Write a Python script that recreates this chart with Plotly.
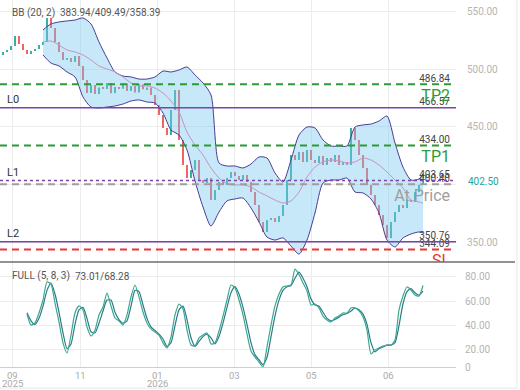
import plotly.graph_objects as go

# ---------------- data ----------------
bar_index = list(range(106))
first_open = 512.2
closes = [514.8, 516.5, 519.9, 528.6, 521.7, 516.5, 513.0, 515.6, 517.4, 520.8,
          523.4, 544.2, 535.5, 523.4, 514.8, 507.9, 509.6, 506.1, 511.3, 502.7,
          490.6, 479.3, 486.2, 478.5, 484.0, 482.8, 488.0, 479.0, 484.5, 483.0,
          487.5, 481.0, 485.4, 479.8, 486.8, 482.5, 484.0, 477.6, 468.9, 460.3,
          449.1, 443.0, 464.6, 481.9, 438.7, 417.1, 405.8, 412.7, 421.4, 404.1,
          401.5, 405.8, 386.8, 395.5, 402.4, 399.8, 405.8, 411.0, 407.6, 404.1,
          408.4, 402.4, 393.7, 382.5, 367.8, 359.2, 369.5, 371.3, 367.8, 373.0,
          382.5, 404.1, 425.7, 421.4, 428.3, 419.7, 430.0, 421.4, 418.8, 424.9,
          417.1, 423.1, 419.7, 425.7, 417.1, 419.7, 417.1, 449.1, 438.7, 425.7,
          414.5, 399.8, 391.1, 382.5, 373.9, 365.2, 354.0, 367.8, 376.4, 382.5,
          379.9, 386.8, 385.1, 393.7, 399.8, 402.5]

band_index = list(range(10, 105, 2)) + [105]
bb_upper = [533.8, 539.0, 540.7, 541.6, 542.4, 544.2, 539.0, 523.4, 509.6, 497.5,
            494.0, 493.2, 491.4, 491.4, 493.2, 498.3, 497.5, 499.2, 501.8, 494.9,
            488.0, 477.6, 418.8, 416.2, 416.2, 414.5, 417.9, 424.0, 423.1, 410.2,
            402.4, 421.4, 443.0, 449.9, 449.1, 438.7, 433.5, 433.5, 433.5, 449.9,
            451.7, 452.5, 455.1, 459.4, 436.1, 415.3, 404.1, 405.0, 409.49]
bb_middle = [523.4, 524.3, 520.8, 516.5, 514.8, 512.2, 507.9, 502.7, 500.1, 497.5,
             493.2, 488.0, 485.4, 485.4, 483.6, 479.3, 472.4, 462.9, 445.6, 434.4,
             425.7, 414.5, 405.8, 400.7, 399.8, 399.8, 398.1, 393.7, 390.3, 386.8,
             384.2, 386.0, 393.7, 406.7, 415.3, 419.7, 421.4, 420.5, 418.8, 419.7,
             423.1, 421.4, 417.1, 411.0, 404.1, 397.2, 386.8, 385.1, 383.94]
bb_lower = [512.2, 505.2, 502.7, 497.5, 493.2, 475.9, 467.2, 466.4, 467.2, 468.1,
            469.8, 472.4, 473.3, 471.5, 470.7, 462.0, 447.3, 443.0, 430.0, 403.2,
            380.8, 364.3, 376.4, 386.0, 387.7, 388.5, 379.9, 367.8, 354.8, 352.2,
            354.0, 347.0, 340.1, 352.2, 375.6, 401.5, 404.1, 404.1, 405.8, 393.7,
            392.9, 387.7, 375.6, 352.2, 346.2, 354.0, 357.4, 359.2, 358.39]

stoch_index = list(range(6, 106))
stoch_k = [49.6, 40.5, 42.2, 50.4, 61.1, 75.9, 74.2, 58.6, 43.0, 25.8,
           17.5, 32.3, 50.4, 56.2, 52.9, 38.9, 31.5, 36.4, 48.8, 55.3,
           66.8, 56.2, 46.3, 43.8, 40.5, 48.8, 63.6, 73.4, 63.6, 51.2,
           42.2, 37.3, 34.8, 32.3, 25.8, 21.6, 30.7, 48.8, 57.8, 53.7,
           36.4, 24.1, 23.3, 29.9, 32.3, 34.0, 24.9, 25.8, 35.6, 47.9,
           61.1, 73.4, 71.0, 61.1, 48.8, 33.2, 19.2, 14.2, 10.1, 6.0,
           22.5, 40.5, 56.2, 66.0, 71.8, 72.6, 73.4, 86.5, 82.0, 75.1,
           68.5, 57.0, 57.8, 54.5, 47.9, 44.7, 43.0, 46.3, 47.9, 50.4,
           50.4, 54.5, 54.5, 52.1, 47.1, 36.4, 16.7, 20.0, 21.6, 23.3,
           24.1, 24.1, 28.2, 52.9, 64.4, 71.8, 69.3, 65.2, 64.4, 73.01]
stoch_d = [50.5, 44.0, 41.0, 46.0, 56.0, 69.0, 75.0, 66.0, 51.0, 34.0,
           21.0, 25.0, 41.0, 53.0, 55.0, 46.0, 35.0, 34.0, 42.0, 52.0,
           61.0, 61.0, 51.0, 45.0, 42.0, 44.0, 56.0, 69.0, 68.0, 57.0,
           46.0, 39.0, 36.0, 33.0, 29.0, 23.0, 26.0, 40.0, 53.0, 56.0,
           45.0, 30.0, 23.0, 27.0, 31.0, 33.0, 30.0, 25.0, 31.0, 42.0,
           55.0, 67.0, 72.0, 66.0, 55.0, 41.0, 26.0, 16.0, 12.0, 8.0,
           14.0, 31.0, 48.0, 61.0, 69.0, 72.0, 73.0, 79.0, 84.0, 79.0,
           72.0, 62.0, 57.0, 56.0, 51.0, 46.0, 44.0, 45.0, 47.0, 49.0,
           50.0, 52.0, 54.5, 53.0, 49.5, 41.0, 26.0, 18.5, 21.0, 22.5,
           24.0, 24.0, 26.0, 40.0, 58.0, 68.0, 70.5, 67.0, 65.0, 68.28]

tick_pos = [2.25, 19.25, 38.5, 57.75, 77, 96.25]
month_labels = ["09", "11", "01", "03", "05", "06"]
year_labels = ["2025", "", "2026", "", "", ""]

price_ticks = [350, 400, 450, 500, 550]
price_tick_text = ["350.00", "", "450.00", "500.00", "550.00"]
stoch_ticks = [6.0, 20, 40, 60, 80]
stoch_tick_text = ["0", "20.00", "40.00", "60.00", "80.00"]

last_price = 402.50

level_names = ["TP2", "L0", "TP1", "L1", "At Price", "L2", "SL"]
level_prices = [486.84, 466.57, 434.00, 403.65, 400.40, 350.76, 344.09]

# ---------------- styles ----------------
GREEN = "#2e9a36"
PURPLE = "#7d43a8"
GREY = "#9e9e9e"
RED = "#e53935"
UP = "#26a69a"
DOWN = "#ef5350"
level_color = [GREEN, PURPLE, GREEN, PURPLE, GREY, PURPLE, RED]
level_dash = ["7px,5px", "solid", "7px,5px", "dot", "7px,5px", "solid", "7px,5px"]
level_width = [2, 1.5, 2, 1.5, 2, 1.5, 2]
level_side = ["right", "left", "right", "left", "right", "left", "right"]

W, H = 520, 390
ML, MR, MT, MB = 0, 64, 0, 23
PW, PH = W - ML - MR, H - MT - MB
Y_MIN, Y_MAX = 333.21, 559.72
PRICE_PER_PX = (Y_MAX - Y_MIN) / 262.0


def px(x):
    return x / PW


def py(y):
    return 1 - y / PH


FONT = "Roboto"

opens = [first_open] + closes[:-1]
bodies_base = [min(o, c) for o, c in zip(opens, closes)]
bodies_h = [max(abs(c - o), 0.4) for o, c in zip(opens, closes)]
bodies_col = [UP if c >= o else DOWN for o, c in zip(opens, closes)]

fig = go.Figure()

# candles
fig.add_trace(go.Bar(x=bar_index, y=bodies_h, base=bodies_base, width=0.3,
                     marker=dict(color=bodies_col, line=dict(width=0)), opacity=0.9,
                     xaxis="x", yaxis="y", hoverinfo="skip"))

# Bollinger bands
BAND_LINE = "#4a3c94"
fig.add_trace(go.Scatter(x=band_index, y=bb_upper, mode="lines",
                         line=dict(color=BAND_LINE, width=1.0, shape="spline", smoothing=0.7),
                         xaxis="x", yaxis="y"))
fig.add_trace(go.Scatter(x=band_index, y=bb_lower, mode="lines",
                         line=dict(color=BAND_LINE, width=1.0, shape="spline", smoothing=0.7),
                         fill="tonexty", fillcolor="rgba(120,200,240,0.42)",
                         xaxis="x", yaxis="y"))
fig.add_trace(go.Scatter(x=band_index, y=bb_middle, mode="lines",
                         line=dict(color="#c792bf", width=1.0, shape="spline", smoothing=0.7),
                         xaxis="x", yaxis="y"))

# level lines
shapes = []
for p, c, d, w in zip(level_prices, level_color, level_dash, level_width):
    shapes.append(dict(type="line", xref="paper", x0=0, x1=1, yref="y", y0=p, y1=p,
                       line=dict(color=c, width=w, dash=d), layer="above"))

# level labels as text traces (clipped to the price panel)
x_right = (450 - 3) / 4
x_left = (7 - 3) / 4
fig.add_trace(go.Scatter(x=[x_right] * len(level_prices), y=level_prices, mode="text",
                         text=[f"{p:.2f}" for p in level_prices], textposition="top left",
                         textfont=dict(family=FONT, size=10, color="#444"),
                         cliponaxis=True, xaxis="x", yaxis="y"))
rn = [(n, p, c) for n, p, c, s in zip(level_names, level_prices, level_color, level_side) if s == "right"]
fig.add_trace(go.Scatter(x=[x_right] * len(rn), y=[r[1] - 5 * PRICE_PER_PX for r in rn], mode="text",
                         text=[r[0] for r in rn], textposition="bottom left",
                         textfont=dict(family=FONT, size=16, color=[r[2] for r in rn]),
                         cliponaxis=True, xaxis="x", yaxis="y"))
ln = [(n, p) for n, p, s in zip(level_names, level_prices, level_side) if s == "left"]
fig.add_trace(go.Scatter(x=[x_left] * len(ln), y=[r[1] + 2 * PRICE_PER_PX for r in ln], mode="text",
                         text=[r[0] for r in ln], textposition="top right",
                         textfont=dict(family=FONT, size=11, color="#333"),
                         cliponaxis=True, xaxis="x", yaxis="y"))

# stochastic
fig.add_trace(go.Scatter(x=stoch_index, y=stoch_d, mode="lines",
                         line=dict(color="#2b7a8a", width=1.2, shape="spline", smoothing=0.6),
                         xaxis="x2", yaxis="y2"))
fig.add_trace(go.Scatter(x=stoch_index, y=stoch_k, mode="lines",
                         line=dict(color="#3aa88f", width=1.2, shape="spline", smoothing=0.6),
                         xaxis="x2", yaxis="y2"))

# separators and card border
shapes.append(dict(type="line", xref="paper", yref="paper", x0=0, x1=px(515),
                   y0=py(262), y1=py(262), line=dict(color="#6d6d6d", width=1.5)))
shapes.append(dict(type="rect", xref="paper", yref="paper", x0=px(-1), x1=px(517),
                   y0=py(388), y1=py(-1), line=dict(color="#e6e6e6", width=1)))

annotations = [
    dict(xref="paper", yref="paper", x=px(10), y=py(13), xanchor="left", yanchor="middle",
         text="BB (20, 2)", showarrow=False, font=dict(family=FONT, size=10, color="#555")),
    dict(xref="paper", yref="paper", x=px(58), y=py(13), xanchor="left", yanchor="middle",
         text=f"{bb_middle[-1]:.2f}/{bb_upper[-1]:.2f}/{bb_lower[-1]:.2f}", showarrow=False,
         font=dict(family=FONT, size=10, color="#555")),
    dict(xref="paper", yref="paper", x=px(10), y=py(276), xanchor="left", yanchor="middle",
         text="FULL (5, 8, 3)", showarrow=False, font=dict(family=FONT, size=10, color="#555")),
    dict(xref="paper", yref="paper", x=px(73), y=py(276), xanchor="left", yanchor="middle",
         text=f"{stoch_k[-1]:.2f}/{stoch_d[-1]:.2f}", showarrow=False,
         font=dict(family=FONT, size=10, color="#555")),
    dict(xref="paper", yref="y", x=1, xshift=10, y=last_price, xanchor="left", yanchor="middle",
         text=f"{last_price:.2f}", showarrow=False, font=dict(family=FONT, size=10, color=UP)),
]
for tp, ml, yl in zip(tick_pos, month_labels, year_labels):
    annotations.append(dict(xref="x2", yref="paper", x=tp, y=py(375), xanchor="center",
                            yanchor="middle", text=ml, showarrow=False, borderpad=0,
                            font=dict(family=FONT, size=9.5, color="#aaa")))
    if yl:
        annotations.append(dict(xref="x2", yref="paper", x=tp, y=py(383.5), xanchor="center",
                                yanchor="middle", text=yl, showarrow=False, borderpad=0,
                                font=dict(family=FONT, size=9.5, color="#aaa")))

GRID = "#ececec"
fig.update_layout(
    width=W, height=H, autosize=False,
    margin=dict(l=ML, r=MR, t=MT, b=MB, pad=0),
    paper_bgcolor="white", plot_bgcolor="white",
    showlegend=False, hovermode=False,
    font=dict(family=FONT),
    shapes=shapes, annotations=annotations,
    xaxis=dict(domain=[0, 1], range=[-0.75, 113.25], anchor="y", tickvals=tick_pos,
               showticklabels=False, showgrid=True, gridcolor=GRID, zeroline=False,
               showline=False, ticks=""),
    xaxis2=dict(domain=[0, 1], range=[-0.75, 113.25], anchor="y2", matches="x",
                tickvals=tick_pos, showticklabels=False, showgrid=True, gridcolor=GRID,
                zeroline=False, showline=True, linecolor="#cfcfcf", linewidth=1, ticks=""),
    yaxis=dict(domain=[py(262), 1], range=[Y_MIN, Y_MAX], side="right", anchor="x",
               tickvals=price_ticks, ticktext=price_tick_text, showgrid=True, gridcolor=GRID,
               zeroline=False, showline=False, ticks="",
               tickfont=dict(family=FONT, size=10, color="#b5b5b5"), ticklabelstandoff=10),
    yaxis2=dict(domain=[0, py(263)], range=[6.0, 91.5], side="right", anchor="x2",
                tickvals=stoch_ticks, ticktext=stoch_tick_text, showgrid=True, gridcolor=GRID,
                zeroline=False, showline=False, ticks="",
                tickfont=dict(family=FONT, size=10, color="#b5b5b5"), ticklabelstandoff=8),
)

fig.write_html("out.html")
